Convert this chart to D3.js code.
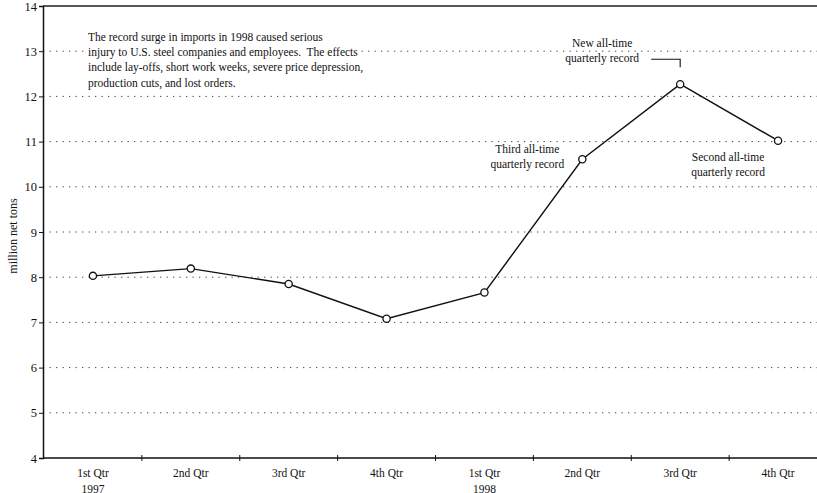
<!DOCTYPE html>
<html><head><meta charset="utf-8">
<script src="https://cdn.jsdelivr.net/npm/d3@7"></script>
<style>
body{margin:0;background:#fff;}
svg{display:block;font-family:"Liberation Serif","Times New Roman",serif;}
</style></head>
<body>
<svg id="c" width="817" height="493"></svg>
<script>
const quarters = ["1st Qtr","2nd Qtr","3rd Qtr","4th Qtr","1st Qtr","2nd Qtr","3rd Qtr","4th Qtr"];
const years = ["1997","","","","1998","","",""];
const imports = [8.03, 8.19, 7.85, 7.08, 7.66, 10.61, 12.27, 11.02];
const yTicks = [4,5,6,7,8,9,10,11,12,13,14];
const noteLines = [
  "The record surge in imports in 1998 caused serious",
  "injury to U.S. steel companies and employees.  The effects",
  "include lay-offs, short work weeks, severe price depression,",
  "production cuts, and lost orders."
];
const annotations = [
  {idx:6, lines:["New all-time","quarterly record"]},
  {idx:5, lines:["Third all-time","quarterly record"]},
  {idx:7, lines:["Second all-time","quarterly record"]}
];

(function(){
const svg = d3.select("#c");
const mL = 43, mR = 827, mT = 6, mB = 458;
const idx = d3.range(quarters.length);
const x = d3.scaleBand().domain(idx).range([mL + 1, mR]).padding(0);
const xc = i => x(i) + x.bandwidth()/2;
const y = d3.scaleLinear().domain([4,14]).range([mB, mT]);

// gridlines
svg.append("g").selectAll("line").data(yTicks.filter(t => t>4 && t<14)).join("line")
  .attr("x1", mL).attr("x2", 817).attr("y1", d=>y(d)).attr("y2", d=>y(d))
  .attr("stroke", "#444").attr("stroke-width", 1).attr("stroke-dasharray", "1.3,5.2");

// frame top
svg.append("line").attr("x1", mL).attr("x2", 817).attr("y1", y(14)).attr("y2", y(14))
  .attr("stroke", "#222").attr("stroke-width", 1.3);

// y axis
const yAxis = d3.axisLeft(y).tickValues(yTicks).tickSize(4).tickFormat(d3.format("d"));
const gy = svg.append("g").attr("transform", `translate(${mL},0)`).call(yAxis);
gy.select(".domain").attr("stroke","#111").attr("stroke-width",1.5);
gy.selectAll(".tick line").attr("stroke","#111");
gy.selectAll(".tick text").attr("font-family","Liberation Serif, serif").attr("font-size",12.5).attr("fill","#111").attr("x",-6);

// x axis
svg.append("line").attr("x1", mL).attr("x2", 817).attr("y1", mB).attr("y2", mB)
  .attr("stroke","#111").attr("stroke-width",1.5);
svg.append("g").selectAll("line").data(idx.slice(1)).join("line")
  .attr("x1", d=>x(d)).attr("x2", d=>x(d)).attr("y1", mB-3).attr("y2", mB+3)
  .attr("stroke","#111").attr("stroke-width",1);
const xl = svg.append("g").selectAll("text").data(idx).join("text")
  .attr("x", d=>xc(d)).attr("y", 477).attr("text-anchor","middle")
  .attr("font-size",11.5).attr("fill","#111");
xl.append("tspan").attr("x", d=>xc(d)).text(d=>quarters[d]);
xl.append("tspan").attr("x", d=>xc(d)).attr("dy", 15.5).text(d=>years[d]);

// y title
svg.append("text").attr("transform","translate(17,236) rotate(-90)")
  .attr("text-anchor","middle").attr("font-size",12).attr("fill","#111").text("million net tons");

// line
const line = d3.line().x(d=>xc(d)).y(d=>y(imports[d]));
svg.append("path").datum(idx).attr("d", line).attr("fill","none")
  .attr("stroke","#111").attr("stroke-width",1.4);
svg.append("g").selectAll("circle").data(idx).join("circle")
  .attr("cx", d=>xc(d)).attr("cy", d=>y(imports[d])).attr("r",3.6)
  .attr("fill","#fff").attr("stroke","#111").attr("stroke-width",1.3);

// note with white backing per line
const noteG = svg.append("g");
const nt = noteG.selectAll("text").data(noteLines).join("text")
  .attr("x", 88).attr("y",(d,i)=>41+i*15.2).attr("font-size",11.5).attr("fill","#111")
  .style("white-space","pre").text(d=>d);
nt.each(function(){
  const b = this.getBBox();
  noteG.insert("rect","text").attr("x", b.x-1).attr("y", b.y+1).attr("width", b.width+3).attr("height", b.height-2)
    .attr("fill","#fff");
});

// annotations
const annPos = {
  6: {x: xc(6)-78, y: 47},
  5: {x: xc(5)-55, y: 153},
  7: {x: xc(7)-50, y: 161}
};
annotations.forEach(a => {
  const p = annPos[a.idx];
  svg.append("g").selectAll("text").data(a.lines).join("text")
    .attr("x", p.x).attr("y", (d,i)=>p.y+i*14.5).attr("text-anchor","middle")
    .attr("font-size",11.5).attr("fill","#111").text(d=>d);
});
// leader for peak
svg.append("path")
  .attr("d", `M${xc(6)-29},${y(imports[6])-25}H${xc(6)}V${y(imports[6])-17}`)
  .attr("fill","none").attr("stroke","#111").attr("stroke-width",1.1);
})();
</script>
</body></html>
